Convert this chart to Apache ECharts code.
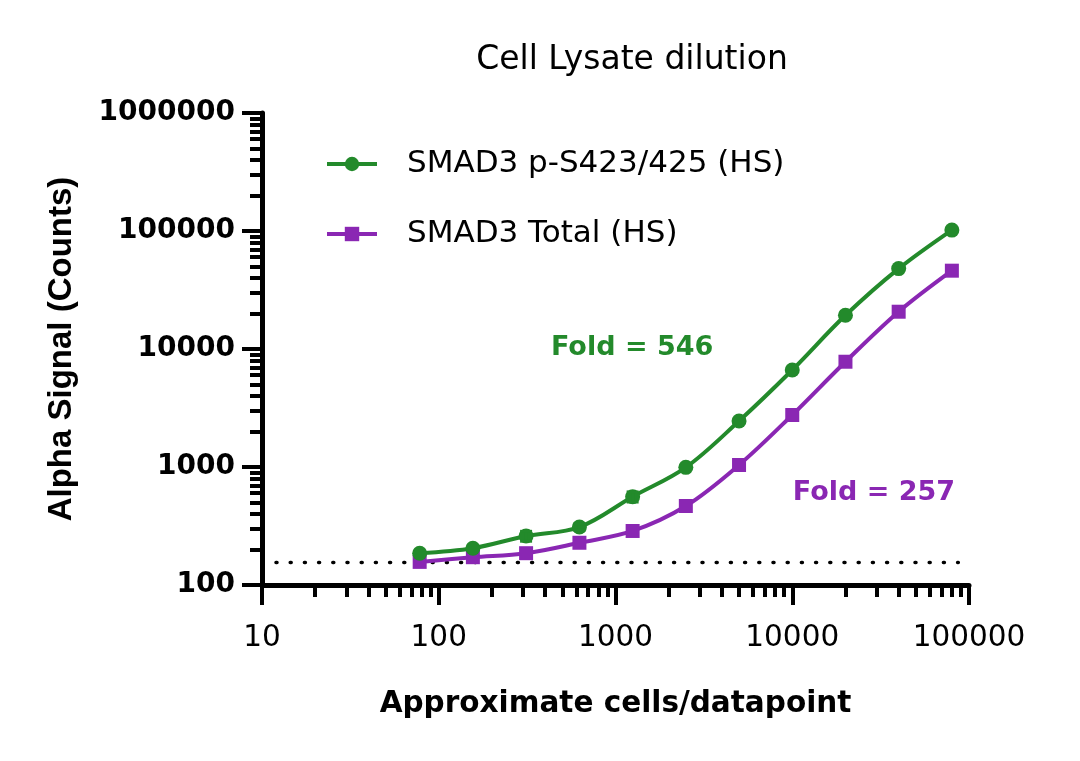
<!DOCTYPE html>
<html>
<head>
<meta charset="utf-8">
<script src="https://cdn.jsdelivr.net/npm/echarts@6/dist/echarts.min.js"></script>
<style>html,body{margin:0;padding:0;background:#fff}#c{width:1080px;height:761px}</style>
</head>
<body>
<div id="c"></div>
<script>
// ---- data ----
const cells = [78, 156, 312, 625, 1250, 2500, 5000, 10000, 20000, 40000, 80000];
const phospho = [186, 205, 260, 310, 560, 993, 2455, 6640, 19300, 48000, 101800];
const phosphoErr = [0, 0, 25, 20, 55, 0, 0, 0, 0, 0, 0];
const total = [157, 172, 186, 228, 287, 467, 1040, 2760, 7800, 20700, 46100];
const baselineX = [12, 87000];
const baselineY = 155;
const seriesNames = ['SMAD3 p-S423/425 (HS)', 'SMAD3 Total (HS)'];
const foldLabels = [
  {x: 1242, y: 10300, text: 'Fold = 546'},
  {x: 29000, y: 603, text: 'Fold = 257'}
];
const xMajorTicks = [10, 100, 1000, 10000, 100000];
const yMajorTicks = [100, 1000, 10000, 100000, 1000000];
const minorFactors = [2, 3, 4, 5, 6, 7, 8, 9];
const xMinorTicks = [10, 100, 1000, 10000].flatMap(d => minorFactors.map(f => d * f));
const yMinorTicks = [100, 1000, 10000, 100000].flatMap(d => minorFactors.map(f => d * f));

const GREEN = '#238A2B';
const PURPLE = '#8A27B3';
const SANS = 'DejaVu Sans';

const chart = echarts.init(document.getElementById('c'), null, {renderer: 'canvas'});

const axisCommon = {
  type: 'log', logBase: 10,
  axisLine: {show: true, lineStyle: {color: '#000', width: 5}},
  splitLine: {show: false}, minorTick: {show: false}, minorSplitLine: {show: false}
};

chart.setOption({
  animation: false,
  backgroundColor: '#fff',
  title: {
    text: 'Cell Lysate dilution', left: 627, top: 39, textAlign: 'center',
    textStyle: {fontFamily: SANS, fontWeight: 'normal', fontSize: 33, color: '#000'}
  },
  legend: {
    orient: 'vertical', left: 325, top: 145, padding: 0,
    itemWidth: 50, itemHeight: 18, itemGap: 32,
    data: seriesNames,
    lineStyle: {width: 4},
    textStyle: {fontFamily: SANS, fontSize: 31, color: '#000', lineHeight: 38, padding: [0, 0, 0, 25]}
  },
  grid: {left: 262, top: 113, width: 707, height: 472, containLabel: false},
  xAxis: [
    Object.assign({}, axisCommon, {
      min: 10, max: 100000, position: 'bottom',
      name: 'Approximate cells/datapoint', nameLocation: 'middle', nameGap: 104,
      nameTextStyle: {fontFamily: SANS, fontWeight: 'bold', fontSize: 29.5, color: '#000'},
      axisTick: {show: true, length: 20, lineStyle: {color: '#000', width: 4}, customValues: xMajorTicks},
      axisLabel: {show: true, margin: 38, fontFamily: SANS, fontSize: 29.5, color: '#000', customValues: xMajorTicks,
        formatter: v => String(Math.round(v))}
    }),
    Object.assign({}, axisCommon, {
      min: 10, max: 100000, position: 'bottom',
      axisLine: {show: false},
      axisTick: {show: true, length: 12, lineStyle: {color: '#000', width: 4}, customValues: xMinorTicks},
      axisLabel: {show: false}
    })
  ],
  yAxis: [
    Object.assign({}, axisCommon, {
      min: 100, max: 1000000, position: 'left',
      name: 'Alpha Signal (Counts)', nameLocation: 'middle', nameGap: 184, nameRotate: 90,
      nameTextStyle: {fontFamily: 'Liberation Sans', fontWeight: 'bold', fontSize: 33, color: '#000'},
      axisTick: {show: true, length: 20, lineStyle: {color: '#000', width: 4}, customValues: yMajorTicks},
      axisLabel: {show: true, margin: 27, fontFamily: SANS, fontWeight: 'bold', fontSize: 28, color: '#000', customValues: yMajorTicks,
        formatter: v => String(Math.round(v))}
    }),
    Object.assign({}, axisCommon, {
      min: 100, max: 1000000, position: 'left',
      axisLine: {show: false},
      axisTick: {show: true, length: 12, lineStyle: {color: '#000', width: 4}, customValues: yMinorTicks},
      axisLabel: {show: false}
    })
  ],
  series: [
    {
      name: 'baseline', type: 'line', silent: true, symbol: 'none', z: 1,
      data: baselineX.map(x => [x, baselineY]),
      lineStyle: {color: '#000', width: 3.5, type: [1, 13.2], cap: 'round'}
    },
    {
      name: seriesNames[0], type: 'line', smooth: 0.35, z: 4,
      data: cells.map((c, i) => [c, phospho[i]]),
      symbol: 'circle', symbolSize: 15,
      itemStyle: {color: GREEN}, lineStyle: {color: GREEN, width: 4}
    },
    {
      name: 'err', type: 'custom', z: 5, silent: true,
      data: cells.map((c, i) => [c, phospho[i] - phosphoErr[i], phospho[i] + phosphoErr[i]]).filter((d, i) => phosphoErr[i] > 0),
      renderItem: function (params, api) {
        const lo = api.coord([api.value(0), api.value(1)]);
        const hi = api.coord([api.value(0), api.value(2)]);
        const w = 6;
        const st = {stroke: GREEN, lineWidth: 3};
        return {type: 'group', children: [
          {type: 'line', shape: {x1: lo[0], y1: lo[1], x2: hi[0], y2: hi[1]}, style: st},
          {type: 'line', shape: {x1: lo[0] - w, y1: lo[1], x2: lo[0] + w, y2: lo[1]}, style: st},
          {type: 'line', shape: {x1: hi[0] - w, y1: hi[1], x2: hi[0] + w, y2: hi[1]}, style: st}
        ]};
      }
    },
    {
      name: seriesNames[1], type: 'line', smooth: 0.35, z: 3,
      data: cells.map((c, i) => [c, total[i]]),
      symbol: 'rect', symbolSize: 14,
      itemStyle: {color: PURPLE}, lineStyle: {color: PURPLE, width: 4}
    },
    {
      name: 'folds', type: 'scatter', silent: true, symbolSize: 0,
      itemStyle: {opacity: 1},
      data: foldLabels.map((f, i) => ({value: [f.x, f.y], label: {
        show: true, position: 'inside', formatter: f.text, opacity: 1,
        fontFamily: SANS, fontWeight: 'bold', fontSize: 27, color: i === 0 ? GREEN : PURPLE}}))
    }
  ]
});
</script>
</body>
</html>
